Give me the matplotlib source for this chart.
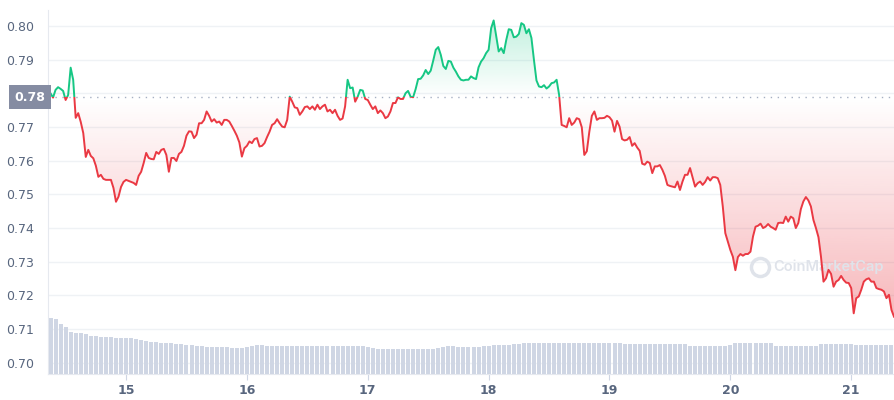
import numpy as np
import matplotlib
matplotlib.use("Agg")
import matplotlib.pyplot as plt
from matplotlib.patches import Rectangle
from matplotlib.path import Path

# price every 30 minutes, 7 days starting day 14 08:30
price = [
    0.7803, 0.7800, 0.7787, 0.7810, 0.7818, 0.7813, 0.7807, 0.7780, 0.7795, 0.7876,
    0.7840, 0.7727, 0.7741, 0.7715, 0.7682, 0.7611, 0.7632, 0.7614, 0.7607, 0.7585,
    0.7552, 0.7558, 0.7546, 0.7543, 0.7543, 0.7543, 0.7519, 0.7478, 0.7493, 0.7522,
    0.7537, 0.7543, 0.7540, 0.7537, 0.7534, 0.7528, 0.7555, 0.7567, 0.7593, 0.7623,
    0.7608, 0.7605, 0.7604, 0.7626, 0.7620, 0.7632, 0.7635, 0.7617, 0.7567, 0.7608,
    0.7608, 0.7599, 0.7620, 0.7626, 0.7644, 0.7674, 0.7687,
    0.7686, 0.7667, 0.7677, 0.7711, 0.7711, 0.7721, 0.7746, 0.7733, 0.7716, 0.7723,
    0.7713, 0.7716, 0.7706, 0.7721, 0.7721, 0.7716, 0.7703, 0.7689, 0.7674, 0.7654,
    0.7612, 0.7637, 0.7644, 0.7657, 0.7652, 0.7664, 0.7667, 0.7642, 0.7644, 0.7652,
    0.7670, 0.7686, 0.7706, 0.7711, 0.7723, 0.7711, 0.7701, 0.7699, 0.7721, 0.7790,
    0.7775, 0.7758, 0.7756, 0.7736, 0.7746, 0.7759, 0.7761, 0.7753, 0.7761, 0.7751,
    0.7766, 0.7753, 0.7761, 0.7766, 0.7746, 0.7751,
    0.7741, 0.7751, 0.7733, 0.7721, 0.7725, 0.7761, 0.7840, 0.7815, 0.7817, 0.7775,
    0.7790, 0.7810, 0.7808, 0.7783, 0.7780, 0.7766, 0.7753, 0.7761, 0.7741, 0.7749,
    0.7741, 0.7726, 0.7731, 0.7746, 0.7771, 0.7771, 0.7788, 0.7783, 0.7783, 0.7800,
    0.7807, 0.7790, 0.7788, 0.7812, 0.7842, 0.7843, 0.7853, 0.7869, 0.7857, 0.7867,
    0.7897, 0.7929, 0.7937, 0.7914, 0.7881, 0.7872, 0.7896, 0.7894, 0.7876, 0.7864,
    0.7850, 0.7840, 0.7838, 0.7840, 0.7840,
    0.7850, 0.7845, 0.7842, 0.7877, 0.7894, 0.7904, 0.7919, 0.7929, 0.7993, 0.8016,
    0.7970, 0.7924, 0.7934, 0.7919, 0.7958, 0.7990, 0.7988, 0.7966, 0.7968, 0.7976,
    0.8008, 0.8003, 0.7978, 0.7990, 0.7964, 0.7899, 0.7838, 0.7820, 0.7818, 0.7824,
    0.7814, 0.7820, 0.7830, 0.7832, 0.7840, 0.7795, 0.7706, 0.7703, 0.7699, 0.7726,
    0.7706, 0.7713, 0.7726, 0.7723, 0.7699, 0.7617, 0.7628, 0.7686, 0.7733, 0.7746,
    0.7721, 0.7726, 0.7726, 0.7727, 0.7733, 0.7729,
    0.7719, 0.7686, 0.7718, 0.7701, 0.7664, 0.7660, 0.7662, 0.7670, 0.7644, 0.7652,
    0.7639, 0.7629, 0.7591, 0.7588, 0.7597, 0.7593, 0.7563, 0.7583, 0.7583, 0.7587,
    0.7573, 0.7555, 0.7528, 0.7525, 0.7523, 0.7521, 0.7538, 0.7513, 0.7538, 0.7558,
    0.7558, 0.7578, 0.7551, 0.7523, 0.7533, 0.7538, 0.7528, 0.7537, 0.7551, 0.7541,
    0.7551, 0.7551, 0.7548, 0.7528, 0.7464, 0.7385, 0.7360, 0.7335, 0.7315, 0.7275,
    0.7314, 0.7323, 0.7318, 0.7323, 0.7323, 0.7330,
    0.7375, 0.7404, 0.7407, 0.7413, 0.7400, 0.7404, 0.7412, 0.7404, 0.7400, 0.7395,
    0.7415, 0.7416, 0.7415, 0.7434, 0.7419, 0.7434, 0.7429, 0.7400, 0.7415, 0.7456,
    0.7479, 0.7492, 0.7482, 0.7464, 0.7424, 0.7400, 0.7373, 0.7315, 0.7241, 0.7251,
    0.7276, 0.7264, 0.7226, 0.7241, 0.7246, 0.7258, 0.7246, 0.7238, 0.7237, 0.7222,
    0.7147, 0.7192, 0.7197, 0.7217, 0.7241, 0.7248, 0.7251, 0.7241, 0.7241, 0.7222,
    0.7219, 0.7217, 0.7212, 0.7192, 0.7202, 0.7157, 0.7137,
]

# hourly volume (arbitrary units)
volume = [
    55.7, 55.0, 50.0, 47.0, 42.3, 41.3, 40.7, 39.7, 38.3, 38.0,
    37.3, 37.0, 37.0, 36.5, 36.3, 36.3, 36.0, 35.0, 34.0, 33.0,
    32.3, 32.0, 31.3, 31.0, 30.7, 30.5, 30.3, 29.5, 29.0, 28.5,
    28.0, 27.5, 27.3, 27.0, 27.0, 26.7, 26.5, 26.3, 26.3, 27.5,
    28.3, 28.7, 28.7, 28.0, 28.0, 28.0, 28.0, 28.0, 28.0, 28.0,
    28.0, 28.0, 28.0, 28.0, 28.0, 28.0, 28.0, 28.0, 28.0, 28.0,
    28.0, 28.0, 28.0, 27.3, 25.7, 25.0, 25.0, 25.0, 25.0, 25.0,
    25.0, 25.0, 25.0, 25.0, 25.0, 25.0, 25.5, 26.0, 26.7, 28.0,
    28.0, 27.5, 27.3, 27.3, 27.3, 27.3, 27.8, 28.3, 28.7, 29.0,
    29.0, 29.5, 30.0, 30.3, 30.7, 30.7, 30.7, 30.7, 30.7, 30.7,
    30.7, 30.7, 30.7, 31.3, 31.3, 31.3, 31.3, 31.3, 31.3, 31.3,
    31.3, 31.3, 31.3, 31.3, 29.7, 29.7, 29.7, 29.7, 30.0, 30.0,
    30.0, 30.0, 30.0, 30.0, 30.0, 30.0, 30.0, 28.0, 28.0, 28.0,
    28.0, 28.0, 28.0, 28.0, 28.0, 29.0, 30.7, 30.7, 30.7, 30.7,
    30.7, 30.7, 30.7, 30.7, 28.0, 28.0, 28.0, 28.0, 28.0, 28.0,
    28.0, 28.0, 28.0, 30.0, 30.0, 30.0, 30.0, 30.0, 30.0, 30.0,
    28.7, 28.7, 28.7, 28.7, 28.7, 28.7, 28.7, 28.7,
]

start_day = 14 + 8.5 / 24
base_price = 0.7788
day_ticks = [15, 16, 17, 18, 19, 20, 21]
price_ticks = [0.70, 0.71, 0.72, 0.73, 0.74, 0.75, 0.76, 0.77, 0.78, 0.79, 0.80]

GREEN = "#16c784"
RED = "#ea3943"
LABEL = "#58667e"

t = start_day + np.arange(len(price)) * 0.5 / 24
p = np.array(price)
xmin, xmax = start_day, start_day + 7.0
ymin, ymax = 0.6967, 0.8047

fig = plt.figure(figsize=(8.94, 4), dpi=100)
ax = fig.add_axes([48 / 894, 26 / 400, 846 / 894, 364 / 400])
ax.set_xlim(xmin, xmax)
ax.set_ylim(ymin, ymax)

ax.set_yticks(price_ticks)
# the 0.78 tick is covered by the reference-price box
ax.set_yticklabels(["" if abs(v - 0.78) < 1e-9 else f"{v:.2f}" for v in price_ticks])
ax.set_xticks(day_ticks)
ax.set_xticklabels([str(d) for d in day_ticks])
ax.grid(axis="y", color="#eff2f5", linewidth=1.0)
ax.set_axisbelow(True)
ax.tick_params(axis="y", length=0, pad=10, labelsize=9, labelcolor=LABEL)
ax.tick_params(axis="x", length=4, width=0.8, color="#cfd6e4", pad=3,
               labelsize=9, labelcolor=LABEL)
for lbl in ax.get_xticklabels():
    lbl.set_fontweight("bold")
for side in ["top", "right"]:
    ax.spines[side].set_visible(False)
ax.spines["left"].set_color("#e6e9ef")
ax.spines["bottom"].set_color("#e6e9ef")


def gradient_fill(lower, upper, y_lo, y_hi, a_lo, a_hi, color):
    poly = ax.fill_between(t, lower, upper, facecolor="none", edgecolor="none")
    path = Path.make_compound_path(*poly.get_paths())
    rgb = matplotlib.colors.to_rgb(color)
    n = 256
    img = np.zeros((n, 1, 4))
    img[:, 0, :3] = rgb
    img[:, 0, 3] = np.linspace(a_lo, a_hi, n)
    im = ax.imshow(img, extent=[xmin, xmax, y_lo, y_hi], origin="lower",
                   aspect="auto", zorder=1)
    im.set_clip_path(path, transform=ax.transData)


gradient_fill(np.minimum(p, base_price), base_price, p.min(), base_price, 0.36, 0.0, RED)
gradient_fill(base_price, np.maximum(p, base_price), base_price, p.max(), 0.0, 0.26, GREEN)
ax.set_xlim(xmin, xmax)
ax.set_ylim(ymin, ymax)

for color, lo, hi in [(GREEN, base_price, 1.0), (RED, 0.0, base_price)]:
    ln, = ax.plot(t, p, color=color, linewidth=1.4, zorder=3, solid_joinstyle="round")
    clip = Rectangle((xmin - 1, lo), xmax - xmin + 2, hi - lo, transform=ax.transData)
    ln.set_clip_path(clip)

ax.axhline(base_price, color="#a6b0c3", linewidth=1.0, linestyle=(0, (1, 4)), zorder=2)

# reference-price label box on the y axis
ax.text(-0.0035, base_price, "0.78", transform=ax.get_yaxis_transform(),
        ha="right", va="center", fontsize=9, fontweight="bold", color="white",
        zorder=10, clip_on=False,
        bbox=dict(boxstyle="square,pad=0.45", facecolor="#858ca2", edgecolor="none"))

# watermark
ax.plot([0.8415], [0.294], marker="o", markersize=13, markerfacecolor="none",
        markeredgecolor="#dfe3ea", markeredgewidth=2.5, transform=ax.transAxes, zorder=2)
ax.text(0.857, 0.294, "CoinMarketCap", transform=ax.transAxes, ha="left", va="center",
        fontsize=10.5, fontweight="semibold", family="Inter", color="#dfe3ea", zorder=2)

# volume bars
ax2 = ax.twinx()
tv = start_day + (np.arange(len(volume)) + 0.5) / 24
ax2.bar(tv, volume, width=0.8 / 24, color="#cfd6e4", linewidth=0)
ax2.set_ylim(0, 364)
ax2.set_xlim(xmin, xmax)
ax2.axis("off")

fig.savefig("out.png", dpi=100)
